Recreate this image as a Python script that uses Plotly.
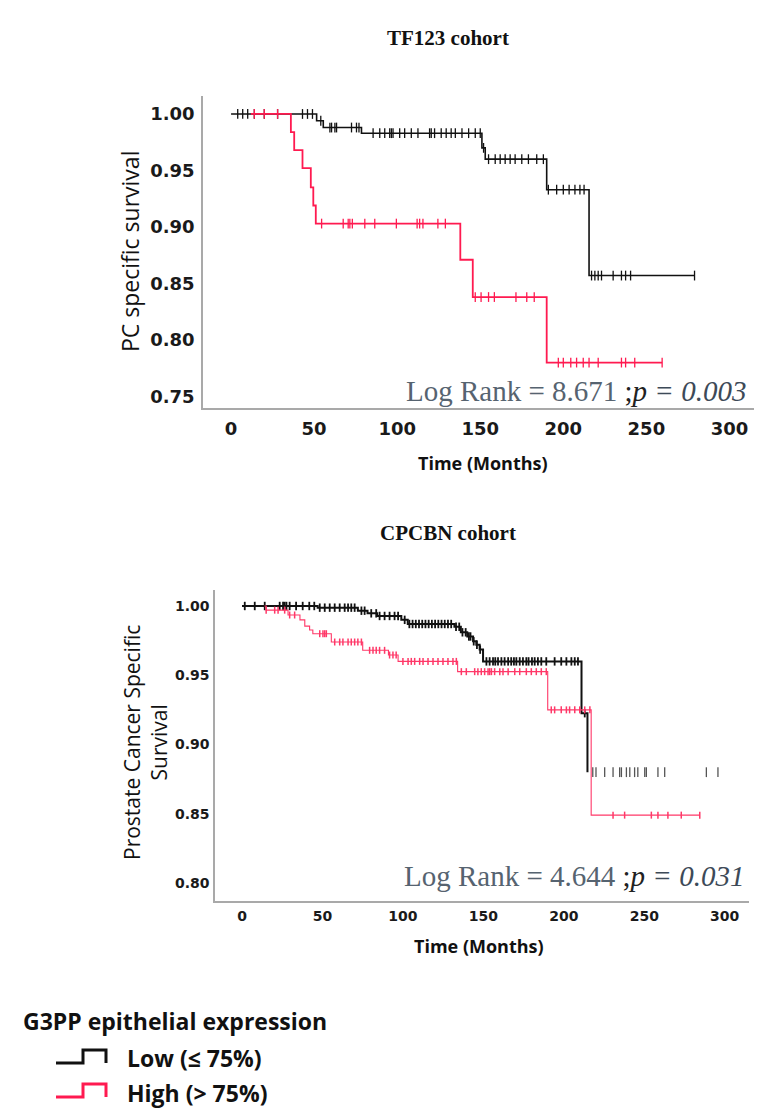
import plotly.graph_objects as go
from bisect import bisect_right

W, H = 762, 1116

# ---------------- DATA ----------------
# TF123 cohort (top panel)
top_low_t = [0, 51.5, 55.5, 78.5, 151, 153, 190, 215.5]
top_low_s = [1.000, 0.994, 0.988, 0.983, 0.970, 0.960, 0.933, 0.857]
top_low_end = 279
top_low_censor = [4, 7, 10, 14, 20, 28, 43, 46, 49, 54, 59.5, 60.5, 62.5, 63.5, 72.5, 75.5, 77,
                  85.5, 89.5, 92.5, 95.5, 96.5, 97.5, 101.5, 104.5, 108.5, 112.5, 119.5, 120.5,
                  122.5, 126.5, 129.5, 132.5, 135, 139, 143, 147, 150, 152, 155, 159, 162, 165,
                  168, 171, 175, 179, 184, 188, 191, 196, 200, 203.5, 207, 210, 212.5, 217, 219,
                  221, 223, 230, 235, 237.5, 240.5, 279]

top_high_t = [12, 36, 38, 43, 48, 49.5, 51, 138, 145.5, 190]
top_high_s = [1.000, 0.984, 0.968, 0.952, 0.935, 0.919, 0.903, 0.871, 0.838, 0.780]
top_high_end = 259.5
top_high_censor = [14, 20, 28, 54.5, 67.5, 70.5, 71.5, 73, 80.5, 86.5, 99.5, 112, 113.5, 115.5,
                   124.5, 129, 147, 150.5, 155, 158.5, 171.5, 178, 182.5, 197, 200, 204.5, 208,
                   212, 215.5, 221, 235, 237.5, 243, 259.5]

# CPCBN cohort (bottom panel)
bot_low_t = [0, 47, 72, 78, 84, 99, 103, 132, 136, 140, 143.6, 145.6, 147.7, 149.8, 211, 214.7]
bot_low_s = [1.000, 0.9988, 0.9966, 0.9947, 0.9928, 0.990, 0.987, 0.985, 0.981, 0.978, 0.9745,
             0.972, 0.9685, 0.960, 0.9226, 0.880]
bot_low_censor = [1.7, 7.9, 14.1, 23.4, 25.5, 26.5, 27.6, 29.6, 33.6, 37.7, 41.8, 44.9, 48.3, 51.4,
                  54.5, 57.6, 60.7, 63.8, 65.9, 67.9, 70, 74.2, 76.2, 80.3, 83.4, 85.5, 88.6,
                  91.7, 94.8, 97, 101.1, 104, 106, 108, 110, 112, 114, 116, 118, 120, 122, 124,
                  126, 128, 130, 133, 135, 137, 139, 141, 142, 144, 146, 148, 151.9, 153.9, 156,
                  157.4, 159.1, 161.2, 163.2, 165.4, 167.3, 169, 170.5, 172.6, 174.6, 176.7,
                  178.1, 180.2, 181.9, 183.9, 186, 189.1, 194.3, 198.4, 201.6, 204.7, 206.8,
                  208.8, 213]
bot_low_tail_censor = [218, 220, 225.4, 230.6, 234.7, 235.8, 238.9, 241, 244, 246, 250.3, 251.3,
                       258.5, 262.7, 288.6, 295.8]

bot_high_t = [14, 15, 28.6, 36, 39, 42, 44, 55.5, 75, 91, 97, 134, 190, 217]
bot_high_s = [1.000, 0.997, 0.9935, 0.990, 0.9855, 0.9827, 0.980, 0.974, 0.968, 0.9646, 0.960,
              0.9526, 0.925, 0.849]
bot_high_end = 284.5
bot_high_censor = [15, 20.3, 22.4, 26.5, 29.6, 32.7, 48.3, 50.3, 51.4, 52.4, 57.6, 60.7, 62.7,
                   65.9, 67.9, 70, 72, 74.2, 79.3, 81.4, 83.4, 85.5, 88.6, 91.7, 93.8, 95.8, 100,
                   103.2, 105.2, 107.3, 110.4, 112.5, 115.6, 118.7, 121.8, 124.9, 128, 131.1,
                   133.2, 136.3, 139.4, 144.6, 146.6, 148.7, 150.8, 152.9, 153.9, 155, 157,
                   160.2, 162.2, 165.4, 169.5, 172.6, 176.7, 179.8, 182.9, 186, 189.1, 192.2,
                   194.3, 198.4, 201.6, 203.6, 206.8, 209.9, 213, 216.2, 230.6, 237.8, 254.4,
                   258.5, 264.7, 273, 284.5]

x_ticks = [0, 50, 100, 150, 200, 250, 300]
top_y_ticks = [0.75, 0.80, 0.85, 0.90, 0.95, 1.00]
bot_y_ticks = [0.80, 0.85, 0.90, 0.95, 1.00]

titles = ["TF123 cohort", "CPCBN cohort"]
log_rank = [("8.671", "0.003"), ("4.644", "0.031")]
legend_title = "G3PP epithelial expression"
legend_labels = ["Low (\u2264 75%)", "High (> 75%)"]

# ---------------- HELPERS ----------------
def step_xy(times, levels, end=None):
    x, y = list(times), list(levels)
    if end is not None:
        x.append(end)
        y.append(levels[-1])
    return x, y


def level_at(times, levels, t):
    i = bisect_right(times, t) - 1
    return levels[max(i, 0)]


BLACK = "#111111"
RED = "#ff1a50"
RED2 = "#ff3868"

fig = go.Figure()


def add_km(times, levels, end, censor, color, width, xa, ya, msize=7, mwidth=1.3):
    x, y = step_xy(times, levels, end)
    fig.add_trace(go.Scatter(x=x, y=y, mode="lines", line=dict(color=color, width=width, shape="hv"),
                             xaxis=xa, yaxis=ya, hoverinfo="skip"))
    fig.add_trace(go.Scatter(x=censor, y=[level_at(times, levels, t) for t in censor], mode="markers",
                             marker=dict(symbol="line-ns-open", size=msize, color=color,
                                         line=dict(color=color, width=mwidth)),
                             xaxis=xa, yaxis=ya, hoverinfo="skip"))


add_km(top_low_t, top_low_s, top_low_end, top_low_censor, BLACK, 1.6, "x", "y")
add_km(top_high_t, top_high_s, top_high_end, top_high_censor, RED, 1.8, "x", "y")

add_km(bot_low_t, bot_low_s, None, bot_low_censor, BLACK, 2.0, "x2", "y2", msize=6, mwidth=1.8)
fig.add_trace(go.Scatter(x=bot_low_tail_censor, y=[bot_low_s[-1]] * len(bot_low_tail_censor),
                         mode="markers",
                         marker=dict(symbol="line-ns-open", size=7, color="#555555",
                                     line=dict(color="#555555", width=1.3)),
                         xaxis="x2", yaxis="y2", hoverinfo="skip"))
add_km(bot_high_t, bot_high_s, bot_high_end, bot_high_censor, RED2, 1.1, "x2", "y2", msize=5, mwidth=1.5)


def px_x(p):
    return p / W


def px_y(p):
    return 1 - p / H


axis_common = dict(showline=True, linecolor="#a9a9a9", linewidth=1.5, showgrid=False,
                   zeroline=False, ticks="")

fig.update_layout(
    width=W, height=H, margin=dict(l=0, r=0, t=0, b=0),
    paper_bgcolor="white", plot_bgcolor="white", showlegend=False,
    xaxis=dict(domain=[px_x(195), px_x(748)], range=[-16.9, 316], anchor="y",
               tickvals=x_ticks, ticktext=[str(v) for v in x_ticks],
               tickfont=dict(family="DejaVu Sans", size=18, color="#1a1a1a", weight="bold"),
               ticklabelstandoff=4, **axis_common),
    yaxis=dict(domain=[px_y(400), px_y(88)], range=[0.7398, 1.0159], anchor="x",
               tickvals=top_y_ticks, ticktext=[f"{v:.2f}" for v in top_y_ticks],
               tickfont=dict(family="DejaVu Sans", size=18, color="#1a1a1a", weight="bold"),
               ticklabelstandoff=3, **axis_common),
    xaxis2=dict(domain=[px_x(207), px_x(741)], range=[-16.8, 315.1], anchor="y2",
                tickvals=x_ticks, ticktext=[str(v) for v in x_ticks],
                tickfont=dict(family="DejaVu Sans", size=14, color="#1a1a1a", weight="bold"),
                ticklabelstandoff=1, **axis_common),
    yaxis2=dict(domain=[px_y(893), px_y(582)], range=[0.787, 1.01155], anchor="x2",
                tickvals=bot_y_ticks, ticktext=[f"{v:.2f}" for v in bot_y_ticks],
                tickfont=dict(family="DejaVu Sans", size=14, color="#1a1a1a", weight="bold"),
                ticklabelstandoff=1, **axis_common),
)

ann = []


def add_text(text, x, y, size, family="Open Sans", bold=False, color="#111111", angle=0,
             xanchor="center"):
    ann.append(dict(text=text, x=px_x(x), y=px_y(y), xref="paper", yref="paper", showarrow=False,
                    xanchor=xanchor, yanchor="middle", textangle=angle,
                    font=dict(family=family, size=size, color=color,
                              weight="bold" if bold else "normal")))


add_text(titles[0], 440, 30, 21, family="Liberation Serif", bold=True)
add_text(titles[1], 440, 525, 21, family="Liberation Serif", bold=True)
add_text("PC specific survival", 122, 244, 23, angle=-90)
add_text("Prostate Cancer Specific<br>Survival", 137, 735, 21, angle=-90)
add_text("Time (Months)", 475, 455, 18, bold=True)
add_text("Time (Months)", 471, 938, 18, bold=True)

for (lr, p), (xr, yc) in zip(log_rank, [(740, 383), (738, 868)]):
    txt = (f"<span style='color:#566370'>Log Rank = {lr} </span>"
           f"<span style='color:#222222'>;<i>p</i></span>"
           f"<span style='color:#3d4a58'><i> = {p}</i></span>")
    add_text(txt, xr, yc, 29, family="Liberation Serif", xanchor="right")

add_text(legend_title, 13, 1013, 23, bold=True, xanchor="left")
add_text(legend_labels[0], 117, 1050, 23, bold=True, xanchor="left")
add_text(legend_labels[1], 117, 1085, 23, bold=True, xanchor="left")

fig.update_layout(annotations=ann)


def icon_path(x0, xm, x1, ylo, yhi):
    return (f"M {px_x(x0)} {px_y(ylo)} L {px_x(xm)} {px_y(ylo)} L {px_x(xm)} {px_y(yhi)} "
            f"L {px_x(x1)} {px_y(yhi)} L {px_x(x1)} {px_y(ylo)}")


fig.add_shape(type="path", path=icon_path(48, 75, 98, 1055, 1042), xref="paper", yref="paper",
              line=dict(color="#111111", width=3))
fig.add_shape(type="path", path=icon_path(48, 75, 98, 1089, 1076), xref="paper", yref="paper",
              line=dict(color=RED, width=3))

fig.write_html("out.html")
